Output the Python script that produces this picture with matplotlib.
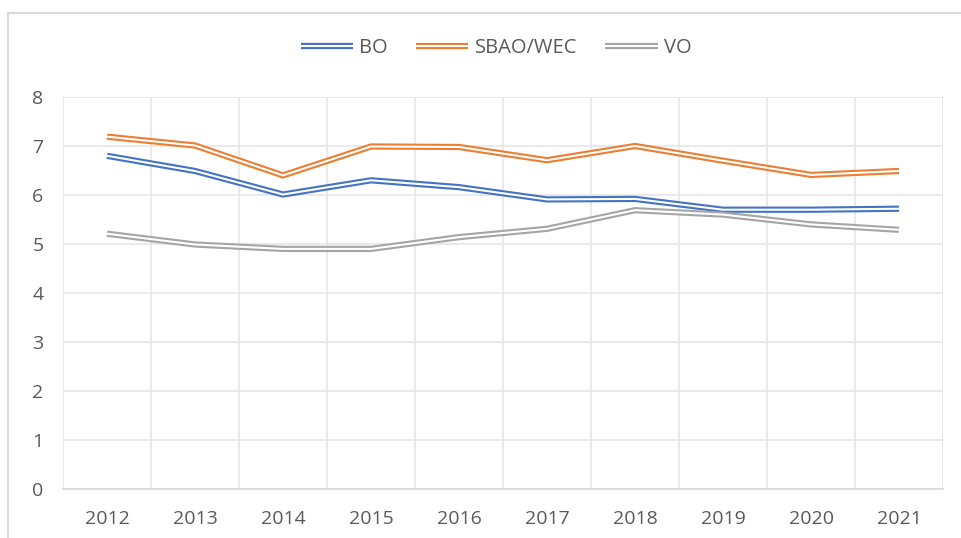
import matplotlib
matplotlib.use("Agg")
import matplotlib.pyplot as plt
import matplotlib.patheffects as pe
from matplotlib.patches import Rectangle
import numpy as np

years = ["2012", "2013", "2014", "2015", "2016", "2017", "2018", "2019", "2020", "2021"]
bo = [6.80, 6.49, 6.01, 6.30, 6.16, 5.91, 5.92, 5.70, 5.70, 5.72]
sbao = [7.19, 7.01, 6.40, 6.99, 6.98, 6.71, 7.00, 6.70, 6.41, 6.49]
vo = [5.21, 4.99, 4.90, 4.90, 5.14, 5.31, 5.69, 5.60, 5.40, 5.29]
series_names = ["BO", "SBAO/WEC", "VO"]
colors = ["#4472C4", "#ED7D31", "#A5A5A5"]

plt.rcParams['font.family'] = ['Open Sans', 'DejaVu Sans']
txt = "#595959"

fig = plt.figure(figsize=(9.61, 5.38), dpi=100)
fig.patch.set_facecolor("white")
ax = fig.add_axes([63/961, 49/538, (943-63)/961, (489-97)/538])

x = np.arange(len(years))
for vals, name, c in zip([bo, sbao, vo], series_names, colors):
    ax.plot(x, vals, color=c, lw=4.5, label=name, solid_joinstyle='miter',
            solid_capstyle='butt',
            path_effects=[pe.Stroke(linewidth=4.5, foreground=c, capstyle='butt'),
                          pe.Stroke(linewidth=1.5, foreground='white', capstyle='butt')])

ax.set_xlim(-0.5, len(years) - 0.5)
ax.set_ylim(0, 8)
ax.set_yticks(range(0, 9))
ax.set_xticks(x)
ax.set_xticklabels(years)
ax.set_xticks(np.arange(-0.5, len(years)), minor=True)
ax.grid(True, which='major', axis='y', color="#E6E6E6", lw=1.2)
ax.grid(True, which='minor', axis='x', color="#E6E6E6", lw=1.2)
ax.set_axisbelow(True)
for s in ['top', 'right', 'left']:
    ax.spines[s].set_visible(False)
ax.spines['bottom'].set_color("#D9D9D9")
ax.spines['bottom'].set_linewidth(1.2)
ax.tick_params(axis='both', which='both', length=0, labelsize=14, labelcolor=txt)
ax.tick_params(axis='x', pad=15)
ax.tick_params(axis='y', pad=14)

leg = ax.legend(loc='center', bbox_to_anchor=(496/961, (538-48)/538), bbox_transform=fig.transFigure,
                ncol=3, frameon=False, fontsize=14.5, handlelength=2.6, columnspacing=1.4,
                handletextpad=0.3)
for t in leg.get_texts():
    t.set_color(txt)

fig.patches.append(Rectangle((8/961, -0.1), 1.2, (538-13)/538 + 0.1, transform=fig.transFigure,
                             fill=False, edgecolor="#D9D9D9", lw=1.5))

fig.savefig("out.png", dpi=100, facecolor="white")
